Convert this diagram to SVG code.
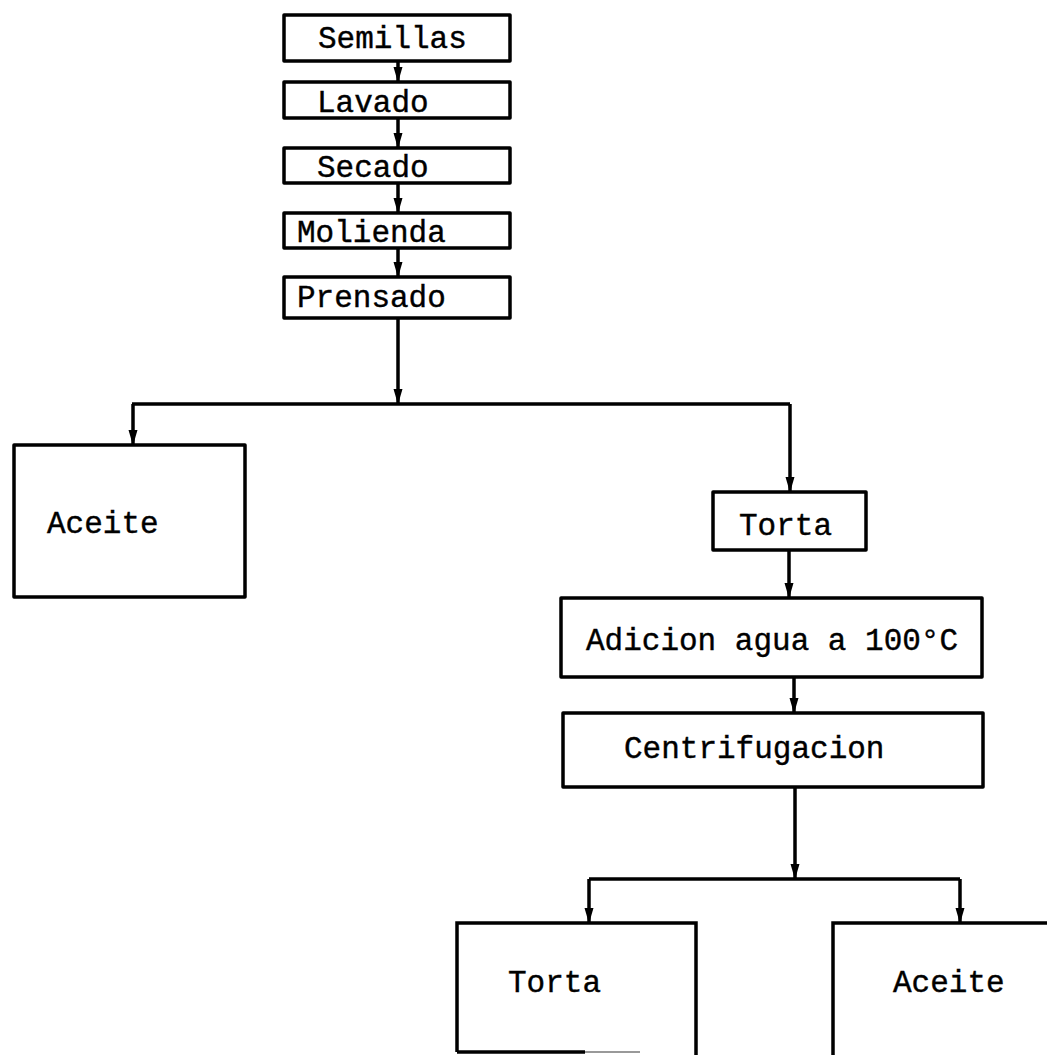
<svg xmlns="http://www.w3.org/2000/svg" width="1047" height="1055" viewBox="0 0 1047 1055">
<style>
.box{fill:#fff;stroke:#000;stroke-width:3.5;stroke-linejoin:round}
.open{fill:none;stroke:#000;stroke-width:3.5}
.ln{fill:none;stroke:#000;stroke-width:3.5}
.t{font-family:"Liberation Mono","DejaVu Sans Mono",monospace;font-size:31px;fill:#000;stroke:#000;stroke-width:0.4}
</style>
<defs>
<marker id="ah" markerUnits="userSpaceOnUse" markerWidth="16" markerHeight="10" refX="15" refY="5" orient="auto" viewBox="0 0 16 10">
<path d="M0,0.5 L15.5,5 L0,9.5 Z" fill="#000"/>
</marker>
</defs>
<rect width="1047" height="1055" fill="#fff"/>
<g id="connectors">
<line class="ln" x1="398" y1="61" x2="398" y2="82" marker-end="url(#ah)"/>
<line class="ln" x1="398" y1="118" x2="398" y2="148" marker-end="url(#ah)"/>
<line class="ln" x1="398" y1="183" x2="398" y2="213" marker-end="url(#ah)"/>
<line class="ln" x1="398" y1="248" x2="398" y2="277" marker-end="url(#ah)"/>
<line class="ln" x1="398" y1="318" x2="398" y2="404" marker-end="url(#ah)"/>
<line class="ln" x1="132" y1="404" x2="790" y2="404"/>
<line class="ln" x1="133" y1="404" x2="133" y2="445" marker-end="url(#ah)"/>
<line class="ln" x1="790" y1="404" x2="790" y2="492" marker-end="url(#ah)"/>
<line class="ln" x1="789" y1="550" x2="789" y2="598" marker-end="url(#ah)"/>
<line class="ln" x1="794" y1="677" x2="794" y2="713" marker-end="url(#ah)"/>
<line class="ln" x1="795" y1="787" x2="795" y2="879" marker-end="url(#ah)"/>
<line class="ln" x1="589" y1="879" x2="960" y2="879"/>
<line class="ln" x1="589" y1="879" x2="589" y2="923" marker-end="url(#ah)"/>
<line class="ln" x1="960" y1="879" x2="960" y2="923" marker-end="url(#ah)"/>
</g>
<g id="semillas"><rect class="box" x="284" y="15" width="226" height="46"/><text class="t" x="318" y="48">Semillas</text></g>
<g id="lavado"><rect class="box" x="284" y="82" width="226" height="36"/><text class="t" x="317" y="112">Lavado</text></g>
<g id="secado"><rect class="box" x="284" y="148" width="226" height="35"/><text class="t" x="317" y="177">Secado</text></g>
<g id="molienda"><rect class="box" x="284" y="213" width="226" height="35"/><text class="t" x="297" y="242">Molienda</text></g>
<g id="prensado"><rect class="box" x="284" y="277" width="226" height="41"/><text class="t" x="297" y="307">Prensado</text></g>
<g id="aceite1"><rect class="box" x="14" y="445" width="231" height="152"/><text class="t" x="47" y="533">Aceite</text></g>
<g id="torta1"><rect class="box" x="713" y="492" width="153" height="58"/><text class="t" x="739" y="535">Torta</text></g>
<g id="adicion"><rect class="box" x="561" y="598" width="421" height="79"/><text class="t" x="586" y="650">Adicion agua a 100°C</text></g>
<g id="centrifugacion"><rect class="box" x="563" y="713" width="420" height="74"/><text class="t" x="624" y="758">Centrifugacion</text></g>
<g id="torta2"><path class="open" d="M457,1052 L457,923 L696,923 L696,1055"/><path class="ln" d="M457,1052 L585,1052"/><path d="M585,1052 L640,1052" stroke="#999" stroke-width="2"/><text class="t" x="508" y="992">Torta</text></g>
<g id="aceite2"><path class="open" d="M833,1055 L833,923 L1050,923"/><text class="t" x="893" y="992">Aceite</text></g>
</svg>
